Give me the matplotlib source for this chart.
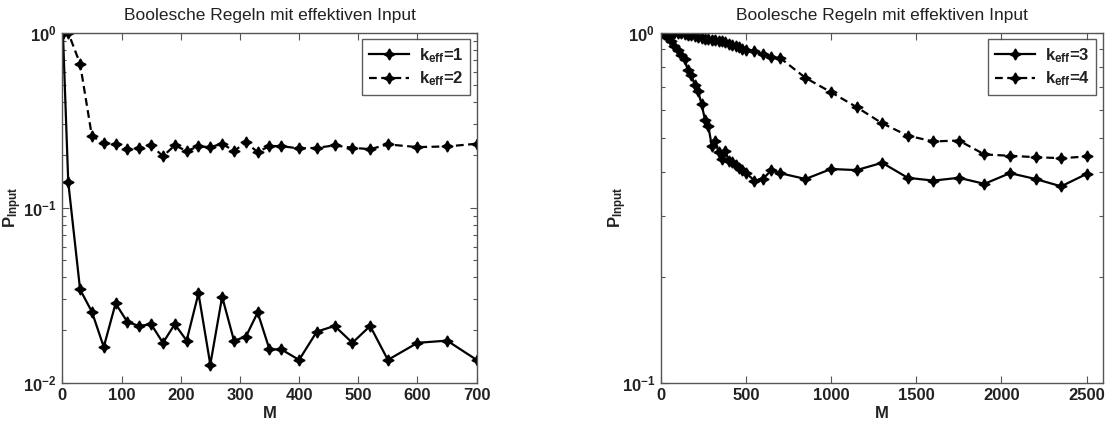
import matplotlib
matplotlib.use("Agg")
import matplotlib.pyplot as plt
from matplotlib.ticker import LogLocator, NullFormatter, FixedLocator

plt.rcParams['font.family'] = ['Liberation Sans', 'DejaVu Sans']
plt.rcParams['mathtext.fontset'] = 'custom'
plt.rcParams['mathtext.rm'] = 'Liberation Sans'
plt.rcParams['mathtext.it'] = 'Liberation Sans'
plt.rcParams['mathtext.bf'] = 'Liberation Sans:bold'

title_text = "Boolesche Regeln mit effektiven Input"

# Left panel: k_eff = 1 and k_eff = 2
m_k1 = [1, 10, 30, 50, 70, 90, 110, 130, 150, 170, 190, 210, 230, 250, 270, 290,
        310, 330, 350, 370, 400, 430, 460, 490, 520, 550, 600, 650, 700]
p_k1 = [1.0, 0.14, 0.0341, 0.0254, 0.0160, 0.0284, 0.0222, 0.0211, 0.0216, 0.0169,
        0.0216, 0.0174, 0.0324, 0.0127, 0.0310, 0.0174, 0.0183, 0.0252, 0.0155,
        0.0155, 0.0135, 0.0196, 0.0211, 0.0169, 0.0211, 0.0135, 0.0169, 0.0174, 0.0135]

m_k2 = [1, 10, 30, 50, 70, 90, 110, 130, 150, 170, 190, 210, 230, 250, 270, 290,
        310, 330, 350, 370, 400, 430, 460, 490, 520, 550, 600, 650, 700]
p_k2 = [1.0, 1.0, 0.665, 0.256, 0.234, 0.230, 0.216, 0.218, 0.227, 0.197, 0.227,
        0.211, 0.224, 0.222, 0.232, 0.211, 0.236, 0.208, 0.225, 0.225, 0.218, 0.220,
        0.227, 0.220, 0.216, 0.230, 0.222, 0.224, 0.232]

# Right panel: k_eff = 3 and k_eff = 4
m_k34 = [1, 20, 40, 60, 80, 100, 120, 140, 160, 180, 200, 220, 240, 260, 280, 300,
         320, 340, 360, 380, 400, 420, 440, 460, 480, 500, 550, 600, 650, 700, 850,
         1000, 1150, 1300, 1450, 1600, 1750, 1900, 2050, 2200, 2350, 2500]
p_k3 = [1.0, 0.99, 0.97, 0.95, 0.915, 0.89, 0.865, 0.84, 0.78, 0.755, 0.71, 0.68,
        0.625, 0.565, 0.54, 0.475, 0.49, 0.455, 0.435, 0.46, 0.43, 0.428, 0.42, 0.41,
        0.405, 0.398, 0.378, 0.382, 0.405, 0.397, 0.382, 0.408, 0.405, 0.425, 0.385,
        0.378, 0.385, 0.370, 0.397, 0.382, 0.364, 0.395]
p_k4 = [1.0, 1.0, 1.0, 1.0, 0.998, 0.995, 0.995, 0.99, 0.988, 0.982, 0.977, 0.972,
        0.966, 0.962, 0.96, 0.955, 0.952, 0.948, 0.944, 0.94, 0.93, 0.925, 0.918,
        0.91, 0.9, 0.895, 0.885, 0.868, 0.850, 0.848, 0.743, 0.676, 0.613, 0.551,
        0.508, 0.489, 0.492, 0.449, 0.445, 0.441, 0.438, 0.443]

x_ticks_left = [0, 100, 200, 300, 400, 500, 600, 700]
x_ticks_right = [0, 500, 1000, 1500, 2000, 2500]

fig = plt.figure(figsize=(11.07, 4.26), dpi=100)
ax1 = fig.add_axes([0.0563, 0.1016, 0.3743, 0.8216])
ax2 = fig.add_axes([0.5968, 0.1016, 0.3996, 0.8216])

star = (4, 1, 0)
style_solid = dict(color='black', lw=1.6, marker=star, ms=8)
style_dash = dict(color='black', lw=1.6, marker=star, ms=8, linestyle=(0, (3.5, 2)))

ax1.plot(m_k1, p_k1, label=r'k$_{\mathbf{eff}}$=1', **style_solid)
ax1.plot(m_k2, p_k2, label=r'k$_{\mathbf{eff}}$=2', **style_dash)
ax2.plot(m_k34, p_k3, label=r'k$_{\mathbf{eff}}$=3', **style_solid)
ax2.plot(m_k34, p_k4, label=r'k$_{\mathbf{eff}}$=4', **style_dash)

panels = ((ax1, x_ticks_left, (0, 700), (1e-2, 1), -0.092),
          (ax2, x_ticks_right, (0, 2596), (1e-1, 1), -0.072))
for ax, xt, xlim, ylim, ylab_x in panels:
    ax.set_yscale('log')
    ax.set_xlim(*xlim)
    ax.set_ylim(*ylim)
    ax.xaxis.set_major_locator(FixedLocator(xt))
    ax.yaxis.set_major_locator(LogLocator(base=10, numticks=10))
    ax.yaxis.set_minor_locator(LogLocator(base=10, subs=range(2, 10), numticks=20))
    ax.yaxis.set_minor_formatter(NullFormatter())
    ax.tick_params(which='both', direction='in', top=True, right=True,
                   color='#555555', labelsize=12, width=0.8)
    ax.tick_params(which='major', length=5, pad=4)
    ax.tick_params(which='minor', length=3)
    for lab in ax.get_xticklabels() + ax.get_yticklabels():
        lab.set_fontweight('bold')
        lab.set_color('#222222')
    for sp in ax.spines.values():
        sp.set_color('#555555')
        sp.set_linewidth(1.0)
    ax.set_title(title_text, fontsize=12.5, pad=9, color='#222222')
    ax.set_xlabel('M', fontsize=12, fontweight='bold', labelpad=2, color='#222222')
    ax.set_ylabel(r'P$_{\mathbf{Input}}$', fontsize=12, fontweight='bold',
                  color='#222222')
    ax.yaxis.set_label_coords(ylab_x, 0.5)
    leg = ax.legend(loc='upper right', fontsize=12, frameon=True, fancybox=False,
                    handlelength=2.4, borderpad=0.4, labelspacing=0.3,
                    borderaxespad=0.4, handletextpad=0.6)
    leg.get_frame().set_edgecolor('#333333')
    leg.get_frame().set_linewidth(1.0)
    for t in leg.get_texts():
        t.set_fontweight('bold')
        t.set_color('#222222')

fig.savefig('out.png', dpi=100)
